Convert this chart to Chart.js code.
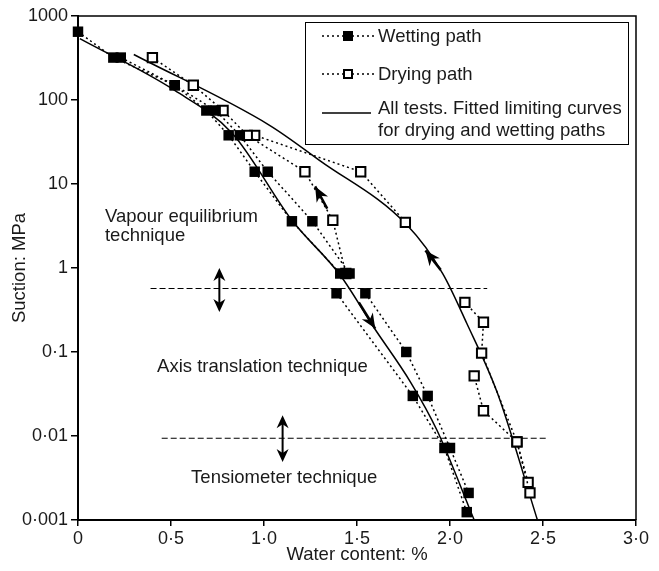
<!DOCTYPE html>
<html>
<head>
<meta charset="utf-8">
<script src="https://cdn.jsdelivr.net/npm/chart.js@4.4.0/dist/chart.umd.min.js"></script>
<style>
  html, body { margin: 0; padding: 0; background: #fff; }
</style>
</head>
<body>
<canvas id="myChart" width="659" height="571"></canvas>
<script>
// Values: [water content %, suction MPa]

// Wetting path tests (filled squares)
const wet1 = [[0, 650], [0.19, 320], [0.52, 150], [0.69, 75], [0.81, 38], [0.95, 14], [1.15, 3.6], [1.41, 0.86]];
const wet2 = [[0.23, 320], [0.52, 150], [0.74, 75], [0.87, 38], [1.02, 14], [1.26, 3.6], [1.46, 0.86]];
const wet3 = [[1.39, 0.5], [1.80, 0.03], [1.97, 0.0072], [2.09, 0.00124]];
const wet4 = [[1.545, 0.5], [1.765, 0.1], [1.88, 0.03], [2.0, 0.0072], [2.10, 0.0021]];

// Drying path tests (open squares)
const dry1 = [[1.44, 0.86], [1.37, 3.7], [1.22, 14], [0.91, 38], [0.78, 75], [0.62, 150], [0.40, 320]];
const dry2 = [[1.76, 3.5], [1.52, 14], [0.95, 38]];
const dry3 = [[2.43, 0.0021], [2.36, 0.0085], [2.18, 0.02], [2.13, 0.052]];
const dry4 = [[2.42, 0.0028], [2.36, 0.0085], [2.17, 0.097], [2.18, 0.226], [2.08, 0.39]];

// Fitted limiting curves (all tests)
const fitWetting = [[0.01, 538], [0.52, 130], [0.83, 40], [1.15, 3.7], [1.41, 0.82], [1.59, 0.197],
                    [1.79, 0.043], [1.93, 0.0117], [2.13, 0.001]];
const fitDrying = [[0.30, 348], [1.03, 50], [1.30, 19], [1.77, 3.22], [1.96, 0.865], [2.09, 0.22],
                   [2.255, 0.0324], [2.47, 0.001]];

// Technique boundaries (dashed) : [x from, x to, suction]
const boundaries = [[0.39, 2.20, 0.57], [0.45, 2.53, 0.0094]];
// Double arrows : [x, suction top, suction bottom]
const rangeArrows = [[0.76, 1.0, 0.30], [1.10, 0.0177, 0.0049]];
// Direction arrows : [tail x, tail y, tip x, tip y]
const pathArrows = [[1.34, 5.1, 1.275, 9.35], [1.95, 0.95, 1.868, 1.62], [1.51, 0.39, 1.598, 0.19]];
// Region labels : [x, suction at first baseline, lines]
const regionLabels = [
  [0.145, 3.49, ['Vapour equilibrium', 'technique']],
  [0.425, 0.0575, ['Axis translation technique']],
  [0.608, 0.00275, ['Tensiometer technique']]
];

const xTicks = [0, 0.5, 1.0, 1.5, 2.0, 2.5, 3.0];
const xTickLabels = ['0', '0·5', '1·0', '1·5', '2·0', '2·5', '3·0'];
const yTicks = [0.001, 0.01, 0.1, 1, 10, 100, 1000];
const yTickLabels = ['0·001', '0·01', '0·1', '1', '10', '100', '1000'];

const FONT = '"Liberation Sans", Arial, sans-serif';
const INK = '#1a1a1a';

const pts = arr => arr.map(p => ({ x: p[0], y: p[1] }));

function wetSet(arr) {
  return {
    data: pts(arr), showLine: true, clip: false,
    borderColor: '#000', borderWidth: 1.5, borderDash: [2, 3],
    pointStyle: 'rect', pointRadius: 7.4, pointBackgroundColor: '#000', pointBorderColor: '#000', pointBorderWidth: 0
  };
}
function drySet(arr) {
  return {
    data: pts(arr), showLine: true, clip: false,
    borderColor: '#000', borderWidth: 1.5, borderDash: [2, 3],
    pointStyle: 'rect', pointRadius: 6.6, pointBackgroundColor: '#fff', pointBorderColor: '#000', pointBorderWidth: 2
  };
}
function fitSet(arr) {
  return {
    data: pts(arr), showLine: true, borderColor: '#000', borderWidth: 1.5,
    pointRadius: 0, cubicInterpolationMode: 'monotone'
  };
}
function boundarySet(b) {
  return {
    data: [{ x: b[0], y: b[2] }, { x: b[1], y: b[2] }], showLine: true,
    borderColor: '#000', borderWidth: 1.2, borderDash: [6, 3], pointRadius: 0
  };
}

const datasets = [
  wetSet(wet1), wetSet(wet2), wetSet(wet3), wetSet(wet4),
  drySet(dry1), drySet(dry2), drySet(dry3), drySet(dry4),
  fitSet(fitWetting), fitSet(fitDrying)
].concat(boundaries.map(boundarySet));

function arrowHead(ctx, x1, y1, x2, y2, len, half) {
  const a = Math.atan2(y2 - y1, x2 - x1);
  const c = Math.cos(a), s = Math.sin(a);
  ctx.beginPath();
  ctx.moveTo(x2, y2);
  ctx.lineTo(x2 - len * c + half * s, y2 - len * s - half * c);
  ctx.lineTo(x2 - len * 0.7 * c, y2 - len * 0.7 * s);
  ctx.lineTo(x2 - len * c - half * s, y2 - len * s + half * c);
  ctx.closePath();
  ctx.fill();
}

const overlay = {
  id: 'overlay',
  afterDatasetsDraw(chart) {
    const { ctx, chartArea: a, scales: { x, y } } = chart;
    ctx.save();

    // frame top / right
    ctx.strokeStyle = '#000';
    ctx.lineWidth = 1.5;
    ctx.beginPath();
    ctx.moveTo(a.left, a.top); ctx.lineTo(a.right, a.top); ctx.lineTo(a.right, a.bottom);
    ctx.stroke();

    // double arrows
    ctx.fillStyle = '#000';
    ctx.lineWidth = 2;
    rangeArrows.forEach(r => {
      const px = x.getPixelForValue(r[0]);
      const y1 = y.getPixelForValue(r[1]), y2 = y.getPixelForValue(r[2]);
      ctx.beginPath(); ctx.moveTo(px, y1 + 6); ctx.lineTo(px, y2 - 6); ctx.stroke();
      arrowHead(ctx, px, y2, px, y1, 13, 6);
      arrowHead(ctx, px, y1, px, y2, 13, 6);
    });

    // direction arrows
    pathArrows.forEach(p => {
      const x1 = x.getPixelForValue(p[0]), y1 = y.getPixelForValue(p[1]);
      const x2 = x.getPixelForValue(p[2]), y2 = y.getPixelForValue(p[3]);
      ctx.lineWidth = 2.5;
      ctx.beginPath(); ctx.moveTo(x1, y1); ctx.lineTo(x2, y2); ctx.stroke();
      arrowHead(ctx, x1, y1, x2, y2, 15, 6.5);
    });

    // region labels
    ctx.fillStyle = INK;
    ctx.font = '18.5px ' + FONT;
    ctx.textAlign = 'left';
    ctx.textBaseline = 'alphabetic';
    regionLabels.forEach(l => {
      const px = x.getPixelForValue(l[0]), py = y.getPixelForValue(l[1]);
      l[2].forEach((t, i) => ctx.fillText(t, px, py + i * 18.5));
    });

    // legend box
    const bx = a.left + 227, by = a.top + 6, bw = a.right - 8 - bx, bh = 122;
    ctx.fillStyle = '#fff';
    ctx.fillRect(bx, by, bw, bh);
    ctx.strokeStyle = '#000';
    ctx.lineWidth = 1;
    ctx.strokeRect(bx + 0.5, by + 0.5, bw, bh);

    const sx1 = bx + 17, sx2 = bx + 69, sxm = (sx1 + sx2) / 2, tx = bx + 73;
    const rows = [by + 14, by + 52];
    ctx.lineWidth = 1.5;
    ctx.setLineDash([2, 3]);
    rows.forEach(ry => { ctx.beginPath(); ctx.moveTo(sx1, ry); ctx.lineTo(sx2, ry); ctx.stroke(); });
    ctx.setLineDash([]);
    ctx.fillStyle = '#000';
    ctx.fillRect(sxm - 5, rows[0] - 5, 10, 10);
    ctx.fillStyle = '#fff';
    ctx.fillRect(sxm - 5, rows[1] - 5, 10, 10);
    ctx.lineWidth = 2;
    ctx.strokeRect(sxm - 4, rows[1] - 4, 8, 8);
    ctx.lineWidth = 1.5;
    ctx.beginPath(); ctx.moveTo(sx1, by + 91); ctx.lineTo(sx2 - 3, by + 91); ctx.stroke();

    ctx.fillStyle = INK;
    ctx.font = '18.5px ' + FONT;
    ctx.textBaseline = 'middle';
    ctx.fillText('Wetting path', tx, rows[0] + 1);
    ctx.fillText('Drying path', tx, rows[1] + 1);
    ctx.fillText('All tests. Fitted limiting curves', tx, by + 87);
    ctx.fillText('for drying and wetting paths', tx, by + 109);

    ctx.restore();
  }
};

const ctx = document.getElementById('myChart').getContext('2d');
const chart = new Chart(ctx, {
  type: 'scatter',
  data: { datasets: datasets },
  options: {
    responsive: false,
    animation: false,
    devicePixelRatio: 1,
    layout: { padding: { left: 0, top: 16, right: 23, bottom: 0 } },
    plugins: { legend: { display: false }, tooltip: { enabled: false } },
    scales: {
      x: {
        type: 'linear', min: 0, max: 3,
        afterBuildTicks: s => { s.ticks = xTicks.map(v => ({ value: v })); },
        afterFit: s => { s.height = 51; },
        ticks: {
          callback: (v, i) => xTickLabels[i], color: INK, padding: 2,
          maxRotation: 0, autoSkip: false, font: { family: FONT, size: 18 }
        },
        grid: { drawOnChartArea: false, drawTicks: true, tickLength: 6, color: '#000', lineWidth: 1.5 },
        border: { display: true, color: '#000', width: 2 },
        title: { display: true, text: 'Water content: %', color: INK, font: { family: FONT, size: 18.5 }, padding: { top: 0, bottom: 5 } }
      },
      y: {
        type: 'logarithmic', min: 0.001, max: 1000,
        afterBuildTicks: s => { s.ticks = yTicks.map(v => ({ value: v })); },
        afterFit: s => { s.width = 78; },
        ticks: {
          callback: (v, i) => yTickLabels[i], color: INK, padding: 3,
          autoSkip: false, font: { family: FONT, size: 18 }
        },
        grid: { drawOnChartArea: false, drawTicks: true, tickLength: 7, color: '#000', lineWidth: 1.5 },
        border: { display: true, color: '#000', width: 2 },
        title: { display: true, text: 'Suction: MPa', color: INK, font: { family: FONT, size: 18.5 }, padding: { top: 9, bottom: 0 } }
      }
    }
  },
  plugins: [overlay]
});
</script>
</body>
</html>
